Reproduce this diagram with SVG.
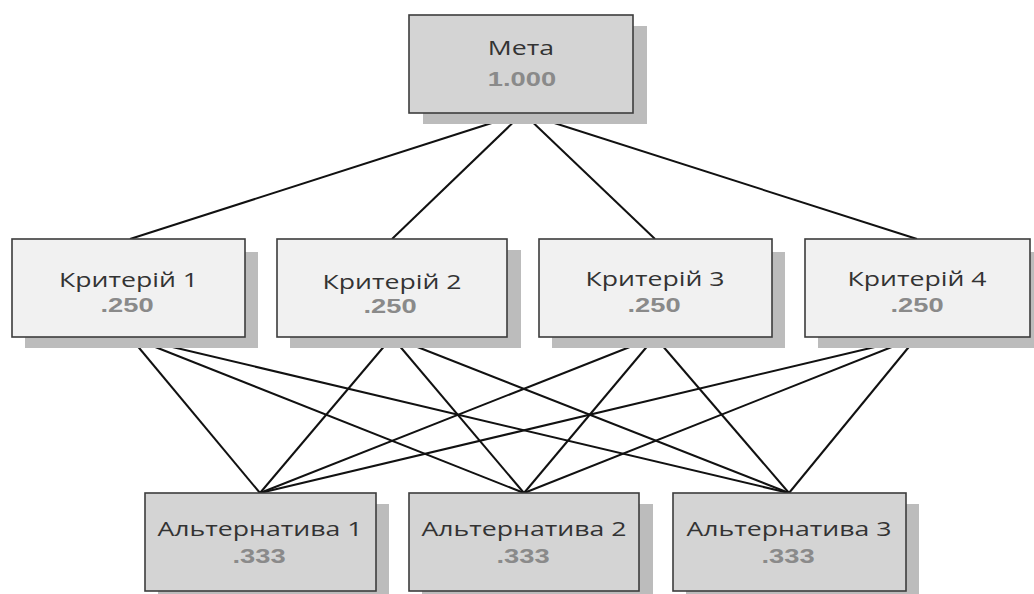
<svg xmlns="http://www.w3.org/2000/svg" width="1034" height="594" viewBox="0 0 1034 594">
<style>
.box{stroke:#3c3c3c;stroke-width:1.6}
.dark{fill:#d4d4d4}
.light{fill:#f1f1f1}
.sh{fill:#bcbcbc}
.t{font-family:"Open Sans","Noto Sans",sans-serif;font-size:20.5px;fill:#333;text-anchor:middle}
.v{font-family:"Liberation Sans",Arial,sans-serif;font-size:19.5px;font-weight:bold;fill:#8a8a8a;text-anchor:middle}
.c{stroke:#111;stroke-width:2;fill:none}
</style>
<rect width="1034" height="594" fill="#fff"/>
<g id="connectors">
<line class="c" x1="523" y1="113" x2="130" y2="239"/>
<line class="c" x1="523" y1="113" x2="392" y2="239"/>
<line class="c" x1="523" y1="113" x2="655" y2="239"/>
<line class="c" x1="523" y1="113" x2="917" y2="239"/>
<line class="c" x1="130" y1="337" x2="260" y2="493"/>
<line class="c" x1="130" y1="337" x2="524" y2="493"/>
<line class="c" x1="130" y1="337" x2="789" y2="493"/>
<line class="c" x1="392" y1="337" x2="260" y2="493"/>
<line class="c" x1="392" y1="337" x2="524" y2="493"/>
<line class="c" x1="392" y1="337" x2="789" y2="493"/>
<line class="c" x1="655" y1="337" x2="260" y2="493"/>
<line class="c" x1="655" y1="337" x2="524" y2="493"/>
<line class="c" x1="655" y1="337" x2="789" y2="493"/>
<line class="c" x1="917" y1="337" x2="260" y2="493"/>
<line class="c" x1="917" y1="337" x2="524" y2="493"/>
<line class="c" x1="917" y1="337" x2="789" y2="493"/>
</g>
<g id="goal">
<rect class="sh" x="423" y="26" width="224" height="98"/>
<rect class="box dark" x="409" y="15" width="224" height="98"/>
<text class="t" transform="translate(521,55) scale(1.3,1)">Мета</text>
<text class="v" transform="translate(522,86) scale(1.4,1)">1.000</text>
</g>
<g id="crit1">
<rect class="sh" x="25" y="252" width="233" height="96"/>
<rect class="box light" x="12" y="239" width="233" height="98"/>
<text class="t" transform="translate(128.5,287) scale(1.3,1)">Критерій 1</text>
<text class="v" transform="translate(127,312) scale(1.4,1)">.250</text>
</g>
<g id="crit2">
<rect class="sh" x="290" y="250" width="231" height="98"/>
<rect class="box light" x="277" y="239" width="230" height="98"/>
<text class="t" transform="translate(392,289) scale(1.3,1)">Критерій 2</text>
<text class="v" transform="translate(390,313) scale(1.4,1)">.250</text>
</g>
<g id="crit3">
<rect class="sh" x="552" y="252" width="233" height="96"/>
<rect class="box light" x="539" y="239" width="233" height="98"/>
<text class="t" transform="translate(655,286) scale(1.3,1)">Критерій 3</text>
<text class="v" transform="translate(654,312) scale(1.4,1)">.250</text>
</g>
<g id="crit4">
<rect class="sh" x="818" y="252" width="225" height="96"/>
<rect class="box light" x="805" y="239" width="225" height="98"/>
<text class="t" transform="translate(917,286) scale(1.3,1)">Критерій 4</text>
<text class="v" transform="translate(917,312) scale(1.4,1)">.250</text>
</g>
<g id="alt1">
<rect class="sh" x="158" y="504" width="231" height="98"/>
<rect class="box dark" x="145" y="493" width="231" height="98"/>
<text class="t" transform="translate(260,536) scale(1.3,1)">Альтернатива 1</text>
<text class="v" transform="translate(259,563) scale(1.4,1)">.333</text>
</g>
<g id="alt2">
<rect class="sh" x="422" y="504" width="231" height="98"/>
<rect class="box dark" x="409" y="493" width="230" height="98"/>
<text class="t" transform="translate(524,536) scale(1.3,1)">Альтернатива 2</text>
<text class="v" transform="translate(523,563) scale(1.4,1)">.333</text>
</g>
<g id="alt3">
<rect class="sh" x="686" y="504" width="233" height="98"/>
<rect class="box dark" x="673" y="493" width="233" height="98"/>
<text class="t" transform="translate(789,536) scale(1.3,1)">Альтернатива 3</text>
<text class="v" transform="translate(788,563) scale(1.4,1)">.333</text>
</g>
</svg>
